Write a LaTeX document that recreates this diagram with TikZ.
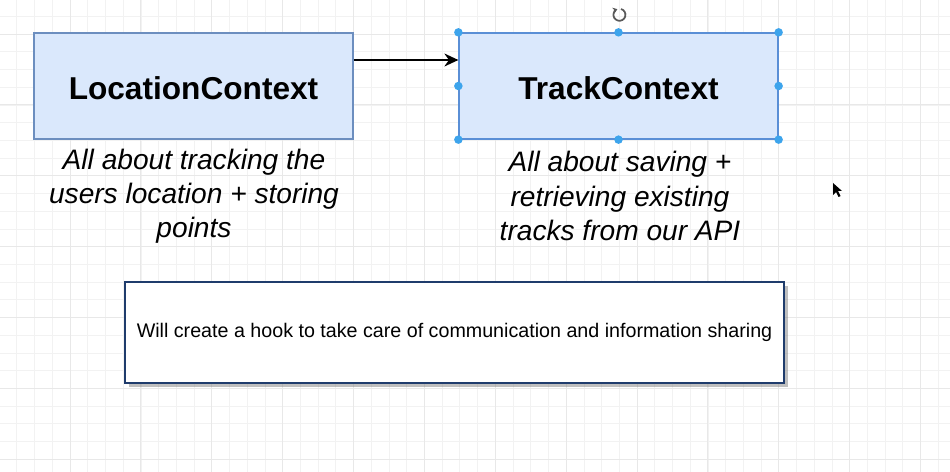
\documentclass[tikz,border=0pt]{standalone}
\usepackage{fontspec}
\setmainfont{Liberation Sans}
\usepackage{xcolor}
\usepackage{tikz}
\usetikzlibrary{arrows.meta, positioning, shadows}

\definecolor{ctxfill}{HTML}{DAE8FC}
\definecolor{ctxdraw}{HTML}{6C8EBF}
\definecolor{ctxsel}{HTML}{5A8FD6}
\definecolor{hookdraw}{HTML}{1F3C6C}
\definecolor{handle}{HTML}{3DA4EC}

\tikzset{
  gridminor/.style={draw=black!5, line width=0.4pt},
  gridmajor/.style={draw=black!9, line width=0.5pt},
  ctxbox/.style={draw=ctxdraw, fill=ctxfill, line width=0.75pt,
    minimum width=6.38cm, minimum height=2.12cm, text height=16pt,
    font=\fontsize{18}{21}\selectfont\bfseries},
  notetext/.style={align=center, font=\fontsize{16}{19.5}\selectfont\itshape},
  hookbox/.style={draw=hookdraw, fill=white, line width=0.85pt,
    minimum width=13.18cm, minimum height=2.02cm,
    font=\fontsize{11.2}{13}\selectfont,
    drop shadow={shadow xshift=0.08cm, shadow yshift=-0.08cm, fill=black!50}},
}

\begin{document}
\begin{tikzpicture}[x=0.02cm, y=-0.02cm]
    % Canvas
    \fill[white] (0,0) rectangle (950,472);
    \useasboundingbox (0,0) rectangle (950,472);

    % Grid
    \foreach \i in {0,...,54}
      \draw[gridminor] ({-0.9+17.72*\i},0) -- ({-0.9+17.72*\i},472);
    \foreach \i in {0,...,27}
      \draw[gridminor] (0,{-1.44+17.72*\i}) -- (950,{-1.44+17.72*\i});
    \foreach \i in {0,...,13}
      \draw[gridmajor] ({-0.9+70.88*\i},0) -- ({-0.9+70.88*\i},472);
    \foreach \i in {0,...,6}
      \draw[gridmajor] (0,{34+70.88*\i}) -- (950,{34+70.88*\i});

    % Contexts
    \node[ctxbox] (loc) at (193.5,86) {LocationContext};
    \node[ctxbox, draw=ctxsel] (track) at (618.5,86) {TrackContext};
    \draw[-{Stealth[length=0.28cm, width=0.26cm]}, line width=0.85pt]
      ([yshift=0.52cm]loc.east) -- ([yshift=0.52cm]track.west);

    % Notes
    \node[notetext] (locnote) at (194,196) {All about tracking the\\users location + storing\\points};
    \node[notetext] (tracknote) at (620,196) {All about saving +\\retrieving existing\\tracks from our API};

    % Hook
    \node[hookbox] (hook) at (454.5,332.5) {Will create a hook to take care of communication and information sharing};

    % Selection handles
    \foreach \a in {north west, north, north east, east, south east, south, south west, west}
      \fill[handle] (track.\a) circle (0.085cm);
    \coordinate (rot) at (619,15);
    \draw[black!65, line width=1pt, -{Stealth[length=2.5pt, width=3.5pt]}]
      (rot) ++(0.04cm,0.12cm) arc (75:-250:0.12cm);

    % Cursor
    \coordinate (cursor) at (833,183);
    \fill[black] (cursor) -- ++(0,12) -- ++(3,-3) -- ++(2.5,5) -- ++(2,-1)
      -- ++(-2.5,-5) -- ++(4,0) -- cycle;
\end{tikzpicture}
\end{document}
